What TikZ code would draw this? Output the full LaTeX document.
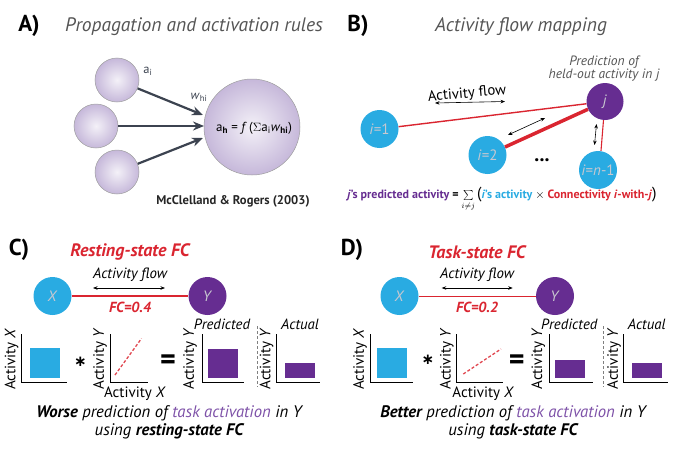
\documentclass[tikz,border=0pt]{standalone}
\usepackage{fontspec}
\setmainfont{PT Sans}
\newfontfamily\djv{DejaVu Sans}
\usetikzlibrary{arrows.meta}
\definecolor{cblue}{HTML}{29ABE2}
\definecolor{cpurple}{HTML}{662D91}
\definecolor{cred}{HTML}{DA2530}
\definecolor{lpurple}{HTML}{7E52A8}
\definecolor{titlegray}{HTML}{555555}
\definecolor{arrowgray}{HTML}{3C4350}
\definecolor{lav}{HTML}{C6B8DA}
\definecolor{lblgray}{HTML}{C8C8D0}
\newcommand{\fsz}[1]{\fontsize{#1}{#1}\selectfont}
\begin{document}
\begin{tikzpicture}[x=1pt,y=-1pt,
  panellabel/.style={font=\fsz{23}\bfseries, inner sep=0},
  ptitle/.style={font=\fsz{19.5}\itshape, text=titlegray, inner sep=0},
  neuron/.style={circle, draw=gray!75, line width=0.5pt, inner sep=0, inner color=white!80!lav, outer color=lav},
  bnode/.style={circle, fill=cblue, inner sep=0, minimum size=38pt, text=lblgray, font=\fsz{15}},
  pnode/.style={circle, fill=cpurple, inner sep=0, minimum size=38pt, text=lblgray, font=\fsz{15}},
  arrA/.style={-{Stealth[length=11pt,width=9pt]}, line width=2.2pt, draw=arrowgray},
  dbl/.style={{Stealth[length=4.5pt,width=3.5pt]}-{Stealth[length=4.5pt,width=3.5pt]}, line width=0.6pt},
  axis/.style={line width=1pt, black},
  axlabel/.style={font=\fsz{15}, inner sep=0},
  fitline/.style={cred!85, dashed, dash pattern=on 3pt off 2pt, line width=1.3pt},
  divider/.style={gray, dashed, dash pattern=on 3pt off 2pt, line width=0.7pt},
  plain/.style={inner sep=0},
  starsym/.style={inner sep=0, font=\fsz{15}\djv\bfseries},
]
\useasboundingbox (0,0) rectangle (680,455);

% ---------------- Panel A ----------------
\node[panellabel] (lA) at (29,26) {A)};
\node[ptitle] (tA) at (194,27) {Propagation and activation rules};
\node[neuron, minimum size=44pt] (n1) at (117,80) {};
\node[neuron, minimum size=44pt] (n2) at (96,126) {};
\node[neuron, minimum size=44pt] (n3) at (117,172) {};
\node[neuron, minimum size=96pt] (h) at (252,127) {};
\coordinate (t1) at (203,115);
\coordinate (t2) at (204,126);
\coordinate (t3) at (203,138);
\draw[arrA] (n1) -- (t1);
\draw[arrA] (n2) -- (t2);
\draw[arrA] (n3) -- (t3);
\node[plain, font=\fsz{12.5}, text=arrowgray] (ai) at (148,71) {a\textsubscript{i}};
\node[plain, font=\fsz{12.5}, text=arrowgray] (whi) at (199,97) {\textit{w}\textsubscript{hi}};
\node[plain, font=\fsz{13}] (eqA) at (254,128) {a\textsubscript{\textbf{h}} = \textit{f}\,($\Sigma$a\textsubscript{i}\textit{w}\textsubscript{\textbf{hi}})};
\node[plain, font=\fsz{12.6}\bfseries, text=black!85] (ref) at (233,201) {McClelland \& Rogers (2003)};

% ---------------- Panel B ----------------
\node[panellabel] (lB) at (358,26) {B)};
\node[ptitle] (tB) at (521,27) {Activity flow mapping};
\node[plain, font=\fsz{13.5}\itshape, text=titlegray, align=center] (pred) at (604,68.5) {Prediction of\\held-out activity in j};
\node[pnode, minimum size=37pt] (j) at (605,101.5) {\textit{j}};
\node[bnode] (i1) at (379.5,129) {\textit{i}=1};
\node[bnode] (i2) at (487.5,155) {\textit{i}=2};
\node[bnode] (in) at (598,170) {\textit{i}=\textit{n}-1};
\draw[cred, line width=1.4pt] (i1) -- (j);
\draw[cred, line width=3.5pt] (i2) -- (j);
\draw[cred, line width=1.1pt] (in.north) ++(3,0) coordinate (inTop) -- (j);
\coordinate (af1) at (435,103);
\coordinate (af2) at (505,101.5);
\draw[dbl] (af1) -- (af2);
\node[plain, font=\fsz{14.8}, rotate=5] (afl) at (467,94) {Activity flow};
\coordinate (af3) at (508,135);
\coordinate (af4) at (545,118);
\draw[dbl] (af3) -- (af4);
\coordinate (af5) at (596.5,124);
\coordinate (af6) at (594.5,145);
\draw[dbl] (af5) -- (af6);
\node[plain, font=\fsz{20}\bfseries] (dots) at (542,160) {...};
\node[plain, font=\fsz{12}\bfseries] (eqB) at (502,199) {{\color{cpurple}\textit{j}'s predicted activity} = $\sum\limits_{i\neq j}$\,{\fsz{16}\mdseries(}{\color{cblue}\textit{i}'s activity} {\mdseries$\times$} {\color{cred}Connectivity \textit{i}-with-\textit{j}}{\fsz{16}\mdseries)}};

% ---------------- Panel C ----------------
\node[panellabel] (lC) at (19,250) {C)};
\node[plain, font=\fsz{18}\bfseries\itshape, text=cred] (tC) at (130,252) {Resting-state FC};
\node[plain, font=\fsz{14.8}\itshape] (afC) at (130,275) {Activity flow};
\coordinate (cA1) at (93,288);
\coordinate (cA2) at (165,288);
\draw[dbl] (cA1) -- (cA2);
\node[bnode] (cX) at (52.5,296) {\textit{X}};
\node[pnode] (cY) at (207.5,296) {\textit{Y}};
\draw[cred, line width=2pt] (cX) -- (cY);
\node[plain, font=\fsz{14.6}\bfseries\itshape, text=cred] (fcC) at (130,307) {FC=0.4};
% chart 1
\draw[axis] (21.7,334) -- (21.7,382) -- (66.7,382);
\node[axlabel, rotate=90] (c1l) at (11.5,359) {Activity \textit{X}};
\fill[cblue] (30,348) rectangle (60,377.5);
\node[starsym] (cstar) at (80.5,362) {∗};
% chart 2
\draw[axis] (110,334) -- (110,382) -- (148,382);
\node[axlabel, rotate=90] (c2l) at (100,359) {Activity \textit{Y}};
\node[axlabel] (c2b) at (135,393.5) {Activity \textit{X}};
\draw[fitline] (115,375) -- (141.5,338.5);
\node[plain, font=\fsz{30}\bfseries] (ceq) at (168,362) {=};
% chart 3
\draw[axis] (202,334) -- (202,382) -- (244,382);
\node[axlabel, rotate=90] (c3l) at (190,359) {Activity \textit{Y}};
\fill[cpurple] (207.5,348.5) rectangle (237.5,377.5);
\node[axlabel, font=\fsz{14.8}\itshape] (cpr) at (222,324) {Predicted};
\draw[divider] (257.3,326) -- (257.3,387);
% chart 4
\draw[axis] (276.7,334) -- (276.7,382) -- (320,382);
\node[axlabel, rotate=90] (c4l) at (266.7,359) {Activity \textit{Y}};
\fill[cpurple] (285,363) rectangle (314.5,377.5);
\node[axlabel, font=\fsz{14.8}\itshape] (cac) at (300,324) {Actual};
\node[plain, font=\fsz{16.7}\itshape, align=center] (cbot) at (169,422) {\textbf{Worse} prediction of {\color{lpurple}task activation} in Y\\[1pt]using \textbf{resting-state FC}};

% ---------------- Panel D ----------------
\node[panellabel] (lD) at (352,250) {D)};
\node[plain, font=\fsz{18}\bfseries\itshape, text=cred] (tD) at (477,252) {Task-state FC};
\node[plain, font=\fsz{14.8}\itshape] (afD) at (477,275) {Activity flow};
\coordinate (dA1) at (441.7,288);
\coordinate (dA2) at (512.7,288);
\draw[dbl] (dA1) -- (dA2);
\node[bnode] (dX) at (399.5,296) {\textit{X}};
\node[pnode] (dY) at (555,296) {\textit{Y}};
\draw[cred, line width=1pt] (dX) -- (dY);
\node[plain, font=\fsz{14.6}\bfseries\itshape, text=cred] (fcD) at (477,307) {FC=0.2};
% chart 1
\draw[axis] (370,334) -- (370,382) -- (412.7,382);
\node[axlabel, rotate=90] (d1l) at (360,359) {Activity \textit{X}};
\fill[cblue] (376.7,348) rectangle (407.3,377.5);
\node[starsym] (dstar) at (428,360) {∗};
% chart 2
\draw[axis] (456.7,334) -- (456.7,382) -- (502.7,382);
\node[axlabel, rotate=90] (d2l) at (446.7,359) {Activity \textit{Y}};
\node[axlabel] (d2b) at (483.3,393.5) {Activity \textit{X}};
\draw[fitline] (463.3,374) -- (501,349);
\node[plain, font=\fsz{30}\bfseries] (deq) at (516.7,362) {=};
% chart 3
\draw[axis] (549.3,334) -- (549.3,382) -- (593.3,382);
\node[axlabel, rotate=90] (d3l) at (538.3,359) {Activity \textit{Y}};
\fill[cpurple] (555,360) rectangle (585,377.5);
\node[axlabel, font=\fsz{14.8}\itshape] (dpr) at (569.3,324) {Predicted};
\draw[divider] (603.3,326) -- (603.3,387);
% chart 4
\draw[axis] (623.3,334) -- (623.3,382) -- (668.3,382);
\node[axlabel, rotate=90] (d4l) at (614,359) {Activity \textit{Y}};
\fill[cpurple] (631.7,363) rectangle (661.7,377.5);
\node[axlabel, font=\fsz{14.8}\itshape] (dac) at (646.7,324) {Actual};
\node[plain, font=\fsz{16.7}\itshape, align=center] (dbot) at (513,422) {\textbf{Better} prediction of {\color{lpurple}task activation} in Y\\[1pt]using \textbf{task-state FC}};
\end{tikzpicture}
\end{document}
